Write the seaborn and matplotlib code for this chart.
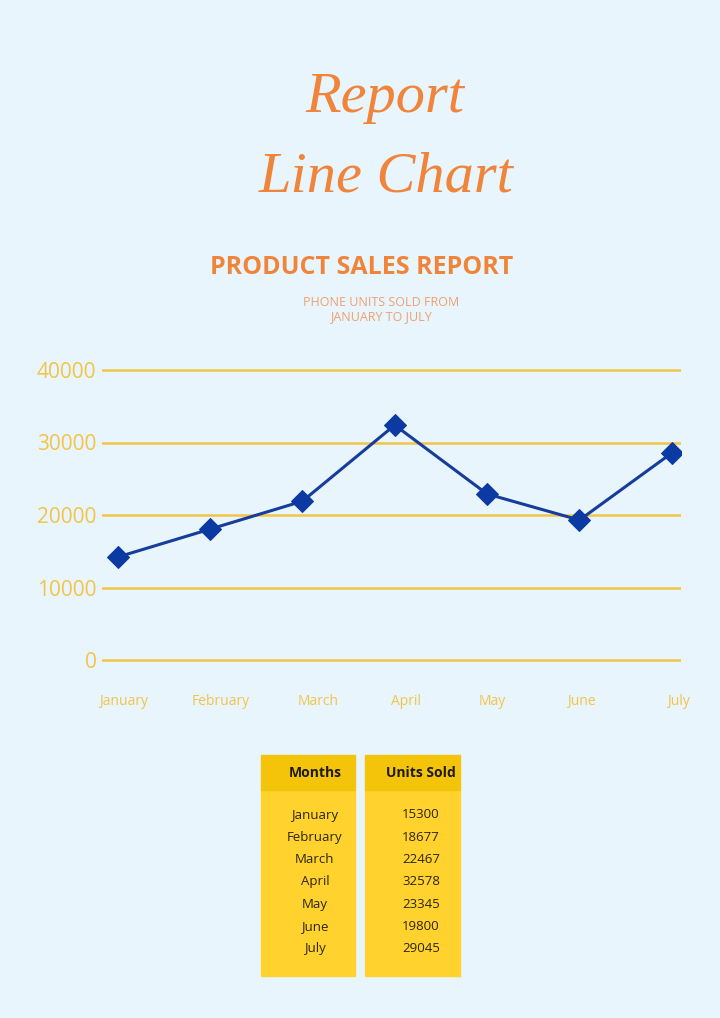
import matplotlib
matplotlib.use("Agg")
import matplotlib.pyplot as plt
import matplotlib.transforms as mtrans
import seaborn as sns
import pandas as pd
from matplotlib.patches import Rectangle

# data
months = ["January", "February", "March", "April", "May", "June", "July"]
plotted_units = [14200, 18050, 21900, 32400, 22900, 19300, 28550]  # where the points sit
table_units = ["15300", "18677", "22467", "32578", "23345", "19800", "29045"]  # printed in the table
y_ticks = [0, 10000, 20000, 30000, 40000]

bg = "#E8F5FC"
orange = "#F0843A"
gold = "#F2C447"
navy = "#163C9C"

sns.set_style("white")
plt.rcParams["font.family"] = ["Open Sans", "DejaVu Sans"]

fig = plt.figure(figsize=(7.2, 10.18), dpi=100)
fig.patch.set_facecolor(bg)

W, H = 720, 1018
# axes: x from 102 to 681 px, y 0 -> 660 px, 40000 -> 370 px (padded a bit)
pad = 600
px_per = 290 / 40000
top_px = 370 - pad * px_per
bot_px = 660 + pad * px_per
ax = fig.add_axes([102 / W, 1 - bot_px / H, (681 - 102) / W, (bot_px - top_px) / H])
ax.set_facecolor(bg)

df = pd.DataFrame({"month": range(len(months)), "units": plotted_units})
sns.lineplot(data=df, x="month", y="units", ax=ax, color=navy, linewidth=2.2,
             marker="D", markersize=11, markeredgecolor="#0B3AA3",
             markerfacecolor="#0B3AA3", zorder=3)

for v in y_ticks:
    ax.axhline(v, color=gold, linewidth=1.8, zorder=1)

ax.set_xlim(-0.17, 6.1)
ax.set_ylim(-pad, 40000 + pad)
ax.set_yticks(y_ticks)
ax.set_yticklabels([str(v) for v in y_ticks], fontsize=15, color=gold)
ax.set_xticks(range(len(months)))
ax.set_xticklabels(months, fontsize=10, color=gold)
ax.tick_params(axis="y", length=0, pad=4)
ax.tick_params(axis="x", length=0, pad=21)
# month labels sit a little right of the points in the original
for lbl, dx in zip(ax.get_xticklabels(), [6, 11, 16, 11, 5, 2, 7]):
    lbl.set_transform(lbl.get_transform() + mtrans.Affine2D().translate(dx, 0))
ax.set_xlabel("")
ax.set_ylabel("")
for s in ax.spines.values():
    s.set_visible(False)

# script style heading
fig.text(385 / W, 1 - 98 / H, "Report", ha="center", va="center", fontsize=42,
         family="Liberation Serif", style="italic", color=orange)
fig.text(386 / W, 1 - 178 / H, "Line Chart", ha="center", va="center", fontsize=42,
         family="Liberation Serif", style="italic", color=orange)

fig.text(362 / W, 1 - 267 / H, "PRODUCT SALES REPORT", ha="center", va="center",
         fontsize=18, fontweight="bold", color=orange)
fig.text(381 / W, 1 - 310 / H, "PHONE UNITS SOLD FROM\nJANUARY TO JULY", ha="center",
         va="center", fontsize=9, color="#F0A070", linespacing=1.1)

# table
head_c = "#F4C40A"
body_c = "#FFD22E"
cols = [(261, 355, 315, "Months", months), (365, 460, 421, "Units Sold", table_units)]
for x0, x1, xc, head, vals in cols:
    fig.patches.append(Rectangle((x0 / W, 1 - 976 / H), (x1 - x0) / W, (976 - 790) / H,
                                 transform=fig.transFigure, color=body_c, zorder=0))
    fig.patches.append(Rectangle((x0 / W, 1 - 790 / H), (x1 - x0) / W, 35 / H,
                                 transform=fig.transFigure, color=head_c, zorder=0))
    fig.text(xc / W, 1 - 773 / H, head, ha="center", va="center", fontsize=10,
             fontweight="bold", color="#1E1A10")
    for i, v in enumerate(vals):
        fig.text(xc / W, 1 - (815 + i * 22.3) / H, v, ha="center", va="center",
                 fontsize=9.5, color="#2B2510")

plt.savefig("out.png", dpi=100, facecolor=bg)
